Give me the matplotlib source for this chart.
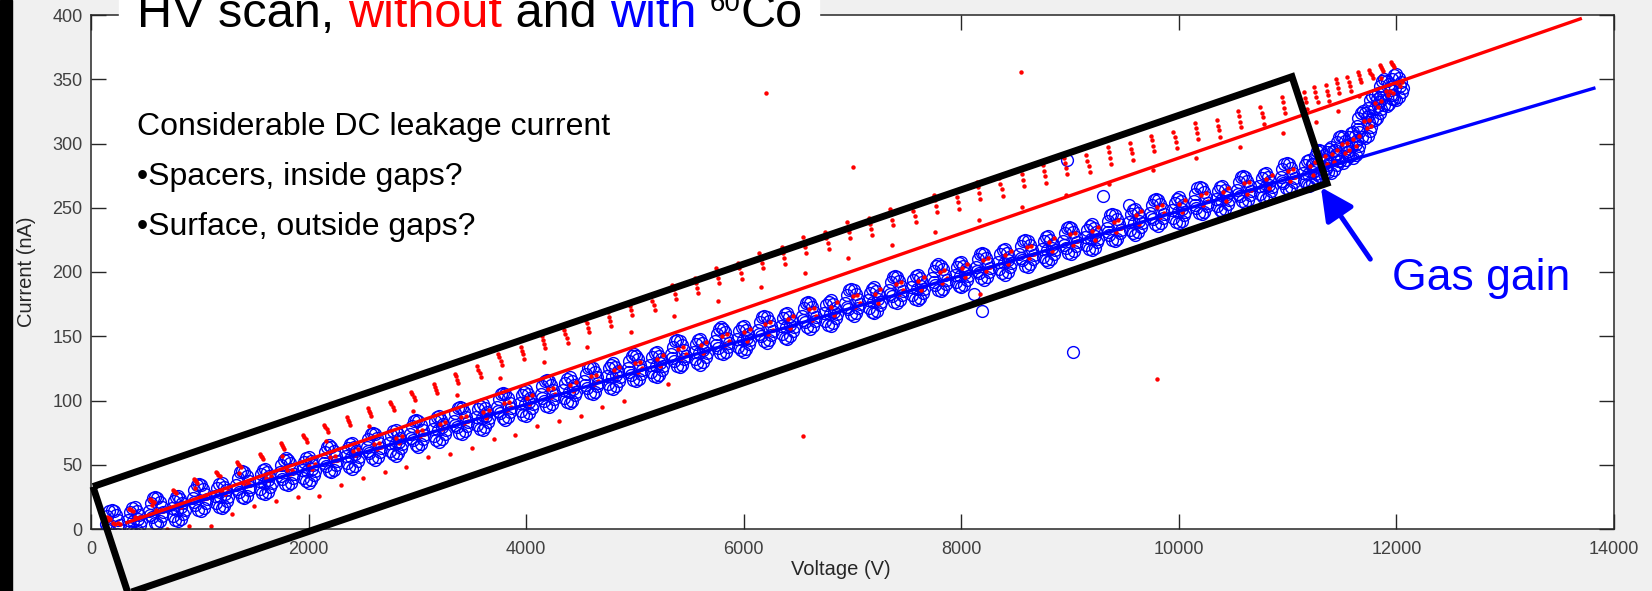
import numpy as np
import matplotlib.pyplot as plt
from matplotlib.patches import Rectangle, Polygon

plt.rcParams['font.family'] = ['Liberation Sans', 'DejaVu Sans']

# voltage steps of the scan (V)
step_V = [200, 400, 600, 800, 1000, 1200, 1400, 1600, 1800, 2000,
          2200, 2400, 2600, 2800, 3000, 3200, 3400, 3600, 3800, 4000,
          4200, 4400, 4600, 4800, 5000, 5200, 5400, 5600, 5800, 6000,
          6200, 6400, 6600, 6800, 7000, 7200, 7400, 7600, 7800, 8000,
          8200, 8400, 8600, 8800, 9000, 9200, 9400, 9600, 9800, 10000,
          10200, 10400, 10600, 10800, 11000, 11200,
          11300, 11400, 11500, 11600, 11700, 11800, 11900, 12000]

# with source: current level at each step (nA)
blue_I = [4, 9, 14, 18, 24, 28, 34, 39, 44, 48,
          54, 59, 64, 69, 74, 80, 84, 89, 95, 100,
          105, 110, 115, 121, 125, 130, 136, 140, 146, 150,
          155, 160, 166, 170, 176, 180, 186, 190, 195, 200,
          204, 210, 214, 220, 224, 229, 234, 241, 246, 250,
          255, 259, 264, 269, 274, 279,
          284, 289, 295, 301, 314, 330, 339, 346]

# without source: top of the charging streak at each step (nA)
red_top = [9, 16, 23, 31, 39, 45, 52, 59, 67, 74,
           81, 88, 94, 100, 107, 114, 121, 128, 136, 143,
           150, 156, 163, 170, 177, 183, 190, 197, 203, 209,
           215, 221, 227, 233, 239, 244, 249, 254, 260, 265,
           270, 275, 280, 285, 289, 293, 297, 302, 306, 311,
           316, 320, 325, 330, 336, 342,
           344, 347, 350, 353, 356, 358, 361, 364]

# spread of repeated readings inside one step (two alternating shapes)
ringA_dV = [-65, -50, -30, -10, 10, 30, 50, 65, -40, -15, 10, 35, 55, -55]
ringA_dI = [0, 6, 10, 11, 10, 7, 3, -1, -5, -9, -10, -8, -4, -3]
ringB_dV = [-60, -40, -20, 0, 20, 40, 60, -50, -25, 0, 25, 50, -10, 30]
ringB_dI = [-2, 4, 7, 8, 5, 2, -3, -8, -11, -12, -10, -6, -3, -1]
redA_dV = [-55, -45, -35, -25, -40, 0, 25, 45, 65]
redA_f = [1.0, 0.94, 0.87, 0.8, 0.55, 0.08, -0.05, 0.1, 0.0]
redB_dV = [-50, -40, -28, -18, 5, 30, 55]
redB_f = [0.97, 0.9, 0.84, 0.76, 0.05, -0.06, 0.1]

# isolated readings
red_tail_V = [700, 900, 1100, 1300, 1500, 1700, 1900, 2100, 2300, 2500,
              2700, 2900, 3100, 3300, 3500, 3700, 3900, 4100, 4300, 4500,
              4700, 4900, 5300]
red_tail_I = [0, 2, 2, 12, 18, 22, 25, 26, 34, 40,
              44, 48, 56, 58, 63, 70, 73, 80, 84, 88,
              95, 100, 113]
red_out_V = [6205, 8549, 7005, 6544, 9800, 8171]
red_out_I = [339, 356, 282, 72, 117, 183]
blue_out_V = [8972, 9303, 9543, 8190, 9027, 8117]
blue_out_I = [287, 259, 252, 170, 138, 183]

# linear fits
red_fit_V = [330, 13690]
red_fit_I = [5, 397]
blue_fit_V = [330, 13815]
blue_fit_I = [5, 343]

bV, bI, rV, rI = [], [], [], []
for i, (v, b, t) in enumerate(zip(step_V, blue_I, red_top)):
    if i % 2 == 0:
        rdv, rdi, pdv, pf = ringA_dV, ringA_dI, redA_dV, redA_f
    else:
        rdv, rdi, pdv, pf = ringB_dV, ringB_dI, redB_dV, redB_f
    for dv, di in zip(rdv, rdi):
        bV.append(v + dv)
        bI.append(b + di)
    for dv, f in zip(pdv, pf):
        rV.append(v + dv)
        rI.append(b + f * (t - b))
bV += blue_out_V
bI += blue_out_I
rV += red_tail_V + red_out_V
rI += red_tail_I + red_out_I

W, H = 1652, 591
fig = plt.figure(figsize=(W / 100, H / 100), dpi=100, facecolor='#f0f0f0')
fig.patches.append(Rectangle((0, 0), 12 / W, 1, transform=fig.transFigure,
                             color='black', zorder=0))
ax = fig.add_axes([91 / W, 1 - 529 / H, (1614 - 91) / W, (529 - 15) / H])

ax.plot(bV, bI, 'o', mfc='none', mec='#0000ff', ms=8.5, mew=1.0)
ax.plot(rV, rI, 'o', color='#ff0000', ms=3.2, mew=0)
ax.plot(blue_fit_V, blue_fit_I, color='#0000ff', lw=2.4)
ax.plot(red_fit_V, red_fit_I, color='#ff0000', lw=2.4)

ax.set_xlim(0, 14000)
ax.set_ylim(0, 400)
ax.set_xticks(range(0, 14001, 2000))
ax.set_yticks(range(0, 401, 50))
ax.tick_params(direction='in', length=11, width=1, top=True, right=True,
               labelsize=13, colors='#262626', labelcolor='#404040')
ax.tick_params(axis='x', pad=9)
ax.tick_params(axis='y', pad=6)
for s in ax.spines.values():
    s.set_color('#262626')
    s.set_linewidth(1.1)
ax.set_xlabel('Voltage (V)', fontsize=14.5, color='#262626')
ax.set_ylabel('Current (nA)', fontsize=14.5, color='#262626', labelpad=12)
ax.xaxis.set_label_coords(0.492, -0.06)

# highlight box around the linear part
ax.add_patch(Polygon([(18, 33), (11040, 352), (11362, 269), (340, -50)],
                     closed=True, fill=False, ec='black', lw=5,
                     clip_on=False, zorder=5))

# gas gain arrow and label
ax.annotate('', xy=(11306, 266), xytext=(11760, 210),
            arrowprops=dict(arrowstyle='-|>,head_length=0.9,head_width=0.45',
                            lw=3.6, color='#0000ff', mutation_scale=22,
                            shrinkA=0, shrinkB=0), zorder=6)
fig.text(1392 / W, 1 - 290 / H, 'Gas gain', color='#0000ff', fontsize=32,
         va='baseline', ha='left')

# title box
fig.patches.append(Rectangle((119 / W, 1 - 44 / H), (819 - 119) / W, 60 / H,
                             transform=fig.transFigure, color='white', zorder=3))
r = fig.canvas.get_renderer()
x = 137
pieces = [('HV scan, ', 'black', 35, 0), ('without', '#ff0000', 35, 0),
          (' and ', 'black', 35, 0), ('with', '#0000ff', 35, 0),
          (' ', 'black', 35, 0), ('60', 'black', 20, 16), ('Co', 'black', 35, 0)]
for txt, col, sz, dy in pieces:
    t = fig.text(x / W, 1 - (27 - dy) / H, txt, color=col, fontsize=sz,
                 va='baseline', ha='left', zorder=4)
    x += t.get_window_extent(renderer=r).width

lines = ['Considerable DC leakage current', '\u2022Spacers, inside gaps?',
         '\u2022Surface, outside gaps?']
for i, s in enumerate(lines):
    fig.text(137 / W, 1 - (135 + 50 * i) / H, s, color='black', fontsize=23,
             va='baseline', ha='left')

fig.savefig('out.png', dpi=100, facecolor=fig.get_facecolor())
